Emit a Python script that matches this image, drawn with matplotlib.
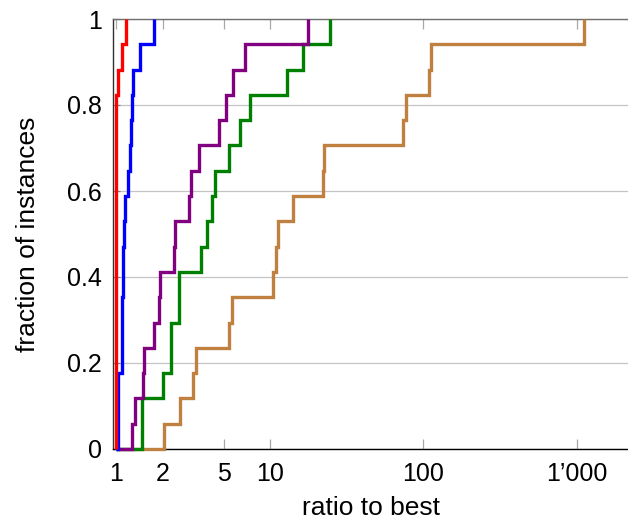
import numpy as np
import matplotlib
matplotlib.use('Agg')
import matplotlib.pyplot as plt
from matplotlib.ticker import FixedLocator, FixedFormatter, NullLocator

#################################################
#            Data (ratio to best, 17 instances)
#################################################
red = [1.0, 1.0, 1.0, 1.0, 1.0, 1.0, 1.0, 1.0, 1.0, 1.0, 1.0, 1.0, 1.0, 1.0,
       1.02, 1.09, 1.15]
blue = [1.03, 1.03, 1.03, 1.084, 1.084, 1.089, 1.10, 1.11, 1.127, 1.14,
        1.197, 1.228, 1.247, 1.26, 1.279, 1.427, 1.77]
purple = [1.26, 1.32, 1.49, 1.51, 1.77, 1.91, 1.93, 2.37, 2.40, 2.99, 3.05,
          3.47, 4.67, 5.19, 5.73, 6.89, 17.7]
green = [1.46, 1.47, 2.01, 2.26, 2.28, 2.55, 2.57, 3.55, 3.88, 4.18, 4.40,
         5.45, 6.40, 7.43, 12.9, 16.5, 24.7]
brown = [2.05, 2.60, 3.16, 3.31, 5.45, 5.65, 10.5, 10.97, 11.26, 14.1, 22.3,
         22.5, 74.1, 76.8, 109.4, 111.7, 1119]

xticks = [1, 2, 5, 10, 100, 1000]
xticklabels = ['1', '2', '5', '10', '100', '1\u2019000']
yticks = [0, 0.2, 0.4, 0.6, 0.8, 1]
yticklabels = ['0', '0.2', '0.4', '0.6', '0.8', '1']

# drawn bottom to top
series = [(brown, '#bf8040'), (green, '#008000'), (purple, '#800080'),
          (blue, '#0000ff'), (red, '#ff0000')]

#################################################
#                    Plot
#################################################
plt.rcParams['font.family'] = ['Liberation Sans', 'DejaVu Sans']

fig = plt.figure(figsize=(6.28, 5.2), dpi=100)
ax = fig.add_axes([113.3 / 628, 71 / 520, 1 - 113.3 / 628, 430 / 520])

for i, (vals, col) in enumerate(series):
    r = np.sort(np.array(vals))
    n = r.size
    xs = np.concatenate([[1.0], r])
    ys = np.arange(n + 1) / n
    ax.step(xs, ys, where='post', color=col, lw=2.4, clip_on=False,
            solid_capstyle='butt', solid_joinstyle='miter', zorder=3 + i)

ax.set_xscale('log')
ax.set_xlim(0.956, 2156)
ax.set_ylim(0, 1)

ax.xaxis.set_major_locator(FixedLocator(xticks))
ax.xaxis.set_major_formatter(FixedFormatter(xticklabels))
ax.xaxis.set_minor_locator(NullLocator())
ax.set_yticks(yticks)
ax.set_yticklabels(yticklabels)

ax.yaxis.grid(True, color='#c4c4c4', lw=0.9)
ax.set_axisbelow(True)

ax.tick_params(axis='x', direction='in', top=True, bottom=True, length=7.5,
               width=0.9, color='#a8a8a8', labelsize=18, pad=9.5)
ax.tick_params(axis='y', direction='in', left=True, right=False, length=5,
               width=0.9, color='#808080', labelsize=18, pad=8)

ax.spines['right'].set_visible(False)
ax.spines['top'].set_color('#707070')
ax.spines['left'].set_color('#303030')
ax.spines['bottom'].set_color('black')
for s in ax.spines.values():
    s.set_linewidth(1.0)

ax.set_xlabel('ratio to best', fontsize=19, labelpad=7)
ax.set_ylabel('fraction of instances', fontsize=19, labelpad=20)

fig.savefig('out.png', dpi=100)
